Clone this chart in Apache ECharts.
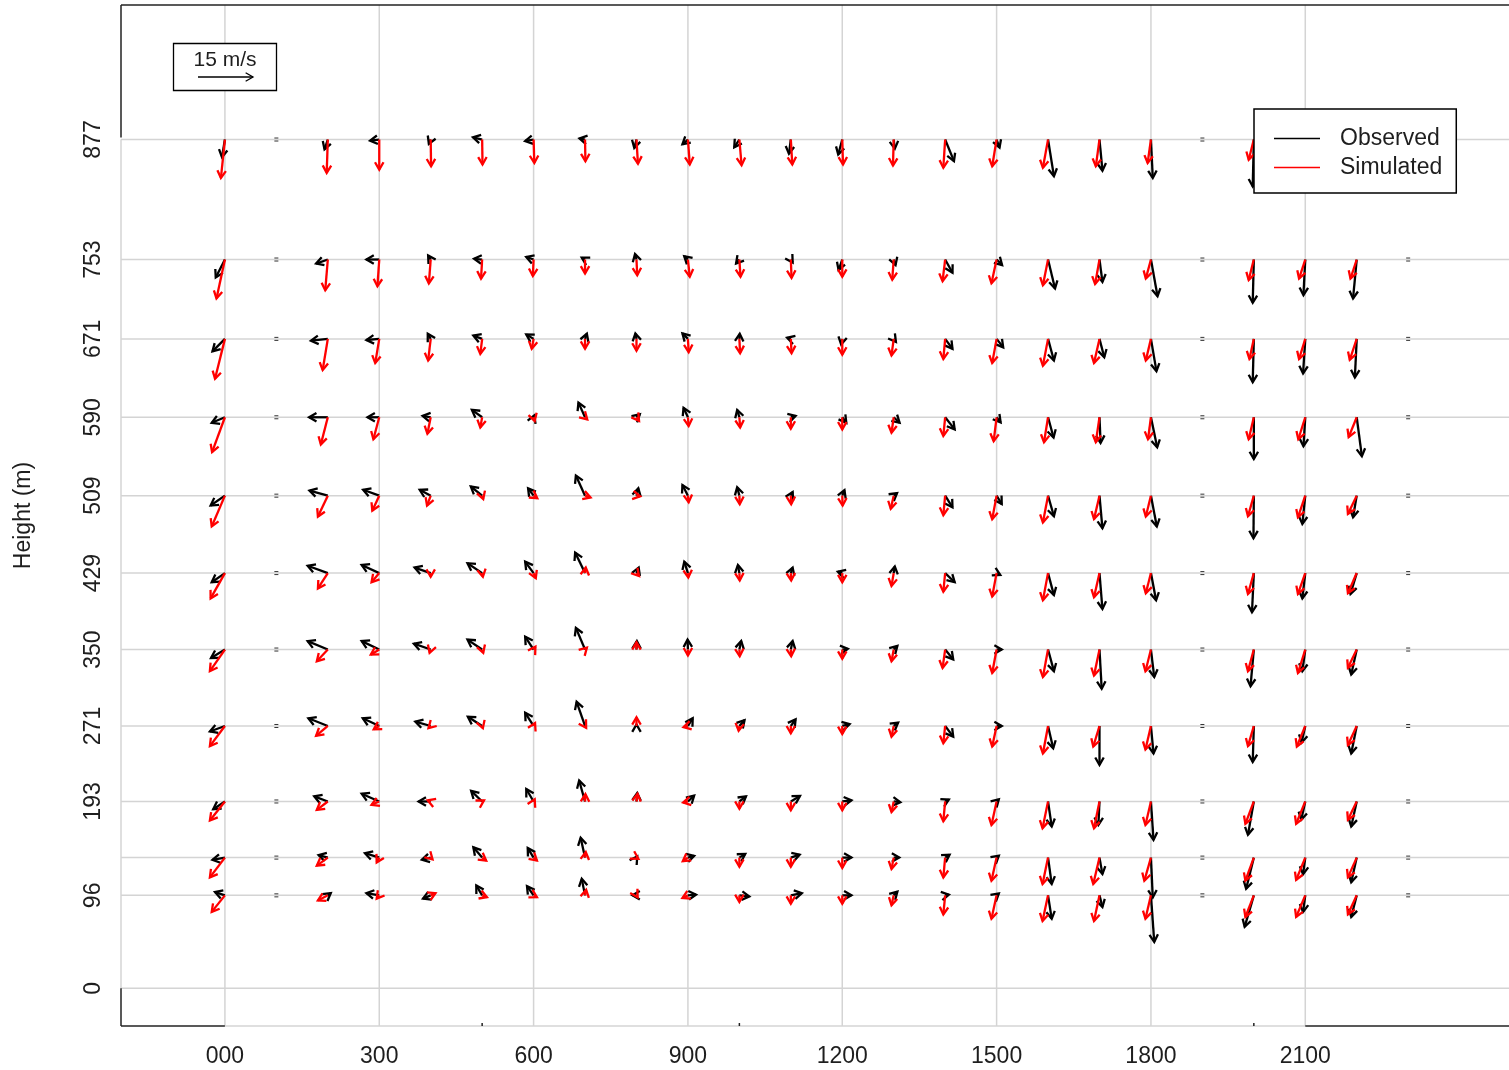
<!DOCTYPE html>
<html>
<head>
<meta charset="utf-8">
<title>Observed and simulated wind vectors</title>
<script src="https://cdn.jsdelivr.net/npm/echarts@6/dist/echarts.min.js"></script>
<style>
  html, body { margin: 0; padding: 0; background: #fff; }
  #chart { width: 1509px; height: 1070px; }
</style>
</head>
<body>
<div id="chart"></div>
<script>
// Station distances along the transect (m) and measurement heights (m)
const stationX = [0, 100, 200, 300, 400, 500, 600, 700, 800, 900, 1000, 1100,
                  1200, 1300, 1400, 1500, 1600, 1700, 1800, 1900, 2000, 2100, 2200, 2300];
const heights = [96, 135, 193, 271, 350, 429, 509, 590, 671, 753, 877];

// Tick labels
const xTickValues = [0, 300, 600, 900, 1200, 1500, 1800, 2100];
const yTickValues = [0, 96, 193, 271, 350, 429, 509, 590, 671, 753, 877];
const gridHeights = [0, 96, 135, 193, 271, 350, 429, 509, 590, 671, 753, 877];
const minorTickX = [500, 1000, 2000];

// Observed wind components (m/s): one row per height (bottom to top), one entry per station, null = no data
const obsU = [
  [-2.7, null, 0.8, -3.5, -2.1, -1.6, -1.8, -0.9, -1.1, 2.2, 2.7, 3.0, 2.5, 1.0, 1.0, 0.6, 1.0, 0.8, 0.9, null, -2.5, -0.6, -1.5, null],
  [-3.4, null, -2.5, -3.9, -2.4, -2.4, -1.6, -1.2, 0.2, 1.7, 1.6, 2.4, 2.5, 1.5, 1.2, 0.6, 1.0, 0.8, 0.5, null, -2.1, -0.6, -1.5, null],
  [-3.2, null, -3.7, -4.8, -3.3, -3.0, -2.0, -1.6, 0.2, 1.7, 1.8, 2.5, 2.5, 1.8, 1.0, 0.6, 1.0, -0.3, 0.7, null, -1.6, -1.1, -1.5, null],
  [-4.1, null, -5.3, -4.5, -4.2, -3.9, -2.3, -2.3, 0.0, 1.3, 1.4, 1.3, 2.0, 1.2, 2.2, 1.4, 1.4, 0.0, 0.7, null, -0.3, -1.0, -1.5, null],
  [-3.8, null, -5.5, -4.8, -4.6, -4.0, -2.3, -2.5, 0.1, -0.1, 0.5, 0.5, 1.5, 1.0, 2.2, 1.4, 1.6, 0.6, 0.9, null, -0.9, -0.8, -1.5, null],
  [-3.6, null, -5.5, -4.8, -4.4, -4.0, -2.3, -2.7, 0.6, -1.0, -0.4, 0.5, -1.2, 0.3, 2.6, 1.0, 1.6, 0.8, 1.4, null, -0.5, -0.8, -1.7, null],
  [-3.9, null, -5.0, -4.4, -3.0, -3.1, -1.5, -2.5, 0.5, -1.5, -0.6, 0.5, 0.6, 0.9, 2.0, 1.4, 1.6, 0.8, 1.6, null, -0.1, -0.8, -1.0, null],
  [-3.6, null, -5.1, -3.2, -2.2, -2.8, 0.2, -1.8, 0.9, -1.2, -0.6, 1.3, 1.1, 1.6, 2.6, 1.1, 1.5, 0.3, 1.7, null, 0.0, -0.5, 1.4, null],
  [-3.4, null, -4.6, -3.5, -0.8, -2.4, -2.0, 0.5, -0.3, -1.5, 0.1, -1.0, -0.3, 0.6, 2.0, 1.8, 1.6, 1.3, 1.5, null, -0.3, -0.6, -0.5, null],
  [-2.5, null, -3.2, -3.5, -0.7, -2.2, -2.0, -0.9, -0.4, -1.0, -0.9, 0.5, -1.0, 0.5, 2.0, 1.5, 1.9, 0.8, 1.8, null, -0.3, -0.5, -1.0, null],
  [-0.8, null, -0.9, -2.5, -0.5, -2.5, -2.3, -1.5, -0.6, -1.5, -1.4, -0.5, -1.1, 0.3, 2.4, 0.8, 1.6, 0.8, 0.5, null, -0.3, null, null, null]
];
const obsV = [
  [0.9, null, 0.6, 0.6, -0.9, 2.7, 2.5, 4.5, 0.0, 0.2, -0.3, 0.6, 0.0, 1.0, 0.2, 0.5, -6.4, -3.2, -12.7, null, -8.6, -4.5, -5.9, null],
  [-0.6, null, 0.7, 1.2, -0.6, 2.8, 2.6, 5.4, 0.3, 0.5, 1.0, 0.8, 0.0, 0.0, 0.8, 0.5, -7.2, -4.5, -10.9, null, -8.5, -4.5, -6.7, null],
  [-2.1, null, 1.4, 2.1, 0.0, 2.9, 3.4, 5.7, 2.3, 1.6, 1.4, 1.5, 0.3, -0.2, 0.5, 0.6, -6.8, -6.4, -10.5, null, -9.1, -5.0, -6.8, null],
  [-1.5, null, 2.1, 2.1, 1.2, 2.5, 3.6, 6.6, 0.4, 2.1, 1.6, 1.8, 0.5, 0.9, -2.9, 0.0, -6.1, -10.6, -7.5, null, -9.8, -4.5, -7.5, null],
  [-2.3, null, 2.3, 2.3, 1.6, 2.7, 3.5, 5.9, 2.3, 2.7, 2.3, 2.3, 0.2, 1.0, -2.7, 0.0, -5.9, -10.7, -7.5, null, -10.0, -5.9, -6.8, null],
  [-2.5, null, 2.0, 2.2, 1.5, 2.7, 3.1, 5.6, 1.5, 3.1, 2.2, 1.5, 0.4, 1.8, -2.5, -0.5, -6.0, -9.8, -7.4, null, -10.7, -6.9, -5.7, null],
  [-2.7, null, 1.4, 1.6, 1.6, 2.5, 2.0, 5.5, 2.0, 2.9, 2.3, 1.0, 1.5, 0.7, -3.2, -2.3, -5.6, -8.9, -8.4, null, -11.6, -7.7, -5.9, null],
  [-1.5, null, 0.0, 0.0, 0.4, 2.0, 0.5, 4.0, 0.8, 2.6, 2.0, 0.4, -1.5, -1.5, -3.3, -1.4, -5.5, -7.0, -8.2, null, -11.4, -7.9, -10.6, null],
  [-3.4, null, -0.5, -0.3, 1.4, 0.9, 1.2, 1.4, 1.5, 1.5, 1.4, 0.3, -1.5, -0.8, -2.7, -2.3, -5.9, -5.0, -8.8, null, -11.8, -9.4, -10.5, null],
  [-4.9, null, -1.1, 0.0, 1.1, 0.2, 0.7, 0.5, 1.5, 0.9, -1.1, -0.8, -2.9, -1.5, -3.6, -1.5, -7.9, -6.1, -10.0, null, -11.8, -9.7, -10.6, null],
  [-4.8, null, -2.7, -0.3, -1.2, 0.6, -0.4, 0.3, -2.3, -1.3, -2.1, -3.9, -4.1, -2.5, -5.9, -2.2, -10.0, -8.5, -10.5, null, -12.8, null, null, null]
];

// Simulated wind components (m/s), same layout
const simU = [
  [-3.6, null, -2.7, -0.7, 1.3, 1.3, 0.9, 0.3, 0.3, -1.5, 0.0, 0.0, 0.0, -0.6, -0.5, -1.4, -1.5, -1.5, -1.5, null, -2.3, -2.5, -2.4, null],
  [-4.1, null, -3.0, -0.7, 0.5, 1.1, 0.9, 0.2, 0.5, -1.4, 0.0, 0.0, 0.0, -0.6, -0.5, -1.4, -1.5, -1.7, -1.8, null, -2.3, -2.5, -2.4, null],
  [-4.1, null, -3.0, -2.1, -0.8, 0.5, 0.3, 0.1, 0.3, -1.3, 0.0, 0.0, 0.0, -0.6, -0.5, -1.4, -1.5, -1.5, -1.5, null, -2.3, -2.5, -2.4, null],
  [-4.1, null, -3.2, -1.5, -0.6, 0.2, 0.4, 0.3, 0.0, -1.2, -0.2, 0.0, 0.0, -0.6, -0.5, -1.2, -1.4, -1.7, -1.5, null, -1.6, -2.3, -2.4, null],
  [-4.1, null, -3.0, -2.3, -0.3, 0.3, 0.5, 0.5, 0.0, 0.0, 0.1, 0.1, 0.0, -0.6, -0.7, -1.2, -1.4, -1.5, -1.5, null, -1.6, -2.0, -2.4, null],
  [-3.9, null, -2.7, -2.1, 0.0, 0.2, 0.6, 0.2, 0.7, 0.1, 0.1, 0.1, 0.0, -0.6, -0.5, -1.2, -1.4, -1.5, -1.4, null, -1.6, -2.0, -2.4, null],
  [-3.6, null, -2.7, -1.9, -1.0, 0.3, 1.0, 1.5, 1.0, 0.2, 0.1, 0.1, 0.1, -0.8, -0.5, -1.2, -1.4, -1.5, -1.4, null, -1.6, -2.0, -2.4, null],
  [-3.5, null, -1.9, -1.6, -0.9, -0.5, 0.3, 0.6, 0.7, 0.2, 0.2, 0.0, 0.0, -0.6, -0.5, -0.8, -1.1, -1.0, -0.8, null, -1.4, -1.9, -2.2, null],
  [-2.7, null, -1.4, -1.1, -0.7, -0.5, -0.5, 0.0, 0.0, 0.2, 0.2, 0.2, 0.0, -0.6, -0.5, -1.2, -1.4, -1.5, -1.4, null, -1.2, -1.7, -1.9, null],
  [-2.3, null, -0.7, -0.5, -0.5, -0.3, -0.2, 0.0, 0.2, 0.5, 0.3, 0.2, 0.0, -0.4, -0.7, -1.4, -1.4, -1.2, -1.4, null, -1.4, -1.7, -1.7, null],
  [-1.1, null, -0.3, 0.0, 0.1, 0.1, 0.2, 0.1, 0.4, 0.5, 0.6, 0.4, 0.2, -0.2, -0.5, -1.2, -1.4, -1.0, -0.9, null, -1.4, null, null, null]
];
const simV = [
  [-4.5, null, -1.4, -0.9, 0.6, -0.5, -0.5, 1.5, -0.5, -0.7, -1.8, -2.3, -2.3, -2.7, -5.2, -6.4, -7.0, -7.0, -6.4, null, -5.9, -5.9, -5.2, null],
  [-5.4, null, -2.2, -1.3, -0.5, -0.8, -0.8, 1.5, -0.3, -1.0, -2.5, -2.5, -2.8, -3.1, -5.4, -6.3, -7.2, -7.2, -6.3, null, -6.3, -6.1, -5.4, null],
  [-5.2, null, -2.3, -0.9, 0.3, 0.3, 0.6, 2.0, 2.1, -0.3, -2.0, -2.4, -2.4, -2.9, -5.4, -6.4, -7.3, -7.3, -6.4, null, -6.1, -6.1, -5.0, null],
  [-5.5, null, -2.7, -0.9, -0.6, -0.6, 0.8, -0.5, 2.4, -0.3, -1.3, -2.0, -2.2, -2.9, -4.7, -5.6, -7.5, -5.6, -6.4, null, -5.5, -5.6, -5.2, null],
  [-5.9, null, -3.2, -1.4, -0.9, -0.9, 0.8, 0.5, 2.0, -1.6, -1.8, -1.8, -2.5, -3.2, -5.0, -6.4, -7.5, -7.1, -5.9, null, -5.9, -6.4, -5.0, null],
  [-6.9, null, -4.2, -2.5, -1.0, -1.0, -1.4, 1.5, -0.8, -1.2, -2.0, -2.0, -2.5, -3.5, -5.1, -6.4, -7.4, -6.6, -5.5, null, -5.7, -5.7, -5.5, null],
  [-8.4, null, -5.7, -4.1, -2.7, -0.9, -0.7, -0.5, -0.2, -1.8, -2.3, -2.3, -2.7, -3.6, -5.3, -6.4, -7.3, -6.4, -5.7, null, -5.6, -5.9, -5.0, null],
  [-9.5, null, -7.4, -6.0, -4.5, -2.8, -1.0, -0.6, -1.0, -2.4, -2.8, -3.1, -3.3, -4.2, -5.1, -6.5, -6.8, -6.8, -6.0, null, -6.0, -6.0, -5.4, null],
  [-10.9, null, -8.5, -6.6, -5.9, -4.1, -2.7, -2.7, -3.2, -3.6, -3.9, -3.9, -4.3, -4.5, -5.5, -6.6, -7.3, -6.6, -5.9, null, -5.5, -5.5, -5.7, null],
  [-10.6, null, -8.4, -7.3, -6.5, -5.2, -4.5, -3.8, -4.3, -4.7, -4.7, -5.0, -4.7, -5.5, -5.9, -6.5, -7.0, -6.7, -5.2, null, -5.6, -5.2, -5.2, null],
  [-10.5, null, -9.1, -8.2, -7.3, -6.8, -6.4, -5.9, -6.6, -6.8, -7.0, -6.8, -6.8, -7.1, -7.7, -7.3, -7.7, -7.3, -6.4, null, -5.5, null, null, null]
];

const KEY_SPEED = 15;             // reference arrow speed (m/s)
const PX_PER_MS = 55 / KEY_SPEED; // arrow length in pixels per m/s
const HEAD_LEN = 8.5;
const HEAD_ANGLE = Math.PI / 6;
const FONT = '"Liberation Sans", Arial, Helvetica, sans-serif';
const GRID_COLOR = '#d4d4d4';
const TEXT_COLOR = '#1e1e1e';

function buildVectors(U, V) {
  const out = [];
  heights.forEach((h, i) => {
    stationX.forEach((x, j) => {
      if (U[i][j] !== null) out.push([x, h, U[i][j], V[i][j]]);
    });
  });
  return out;
}

function buildMissing() {
  const out = [];
  heights.forEach((h, i) => {
    stationX.forEach((x, j) => {
      if (obsU[i][j] === null) out.push([x, h]);
    });
  });
  return out;
}

function arrowShapes(x0, y0, x1, y1, color, width, z) {
  const ang = Math.atan2(y1 - y0, x1 - x0);
  const h1 = [x1 - HEAD_LEN * Math.cos(ang - HEAD_ANGLE), y1 - HEAD_LEN * Math.sin(ang - HEAD_ANGLE)];
  const h2 = [x1 - HEAD_LEN * Math.cos(ang + HEAD_ANGLE), y1 - HEAD_LEN * Math.sin(ang + HEAD_ANGLE)];
  const shaft = { type: 'line', shape: { x1: x0, y1: y0, x2: x1, y2: y1 },
    style: { stroke: color, lineWidth: width, lineCap: 'butt' } };
  const head = { type: 'polyline', shape: { points: [h1, [x1, y1], h2] },
    style: { stroke: color, lineWidth: width, fill: null, lineJoin: 'miter' } };
  if (z !== undefined) { shaft.z = z; head.z = z; }
  return [shaft, head];
}

function vectorRenderer(color, width) {
  return function (params, api) {
    const p = api.coord([api.value(0), api.value(1)]);
    const tx = p[0] + api.value(2) * PX_PER_MS;
    const ty = p[1] - api.value(3) * PX_PER_MS;
    return { type: 'group', children: arrowShapes(p[0], p[1], tx, ty, color, width) };
  };
}

const chart = echarts.init(document.getElementById('chart'), null, { renderer: 'canvas' });

const keyArrow = arrowShapes(198, 77, 198 + KEY_SPEED * PX_PER_MS, 77, '#000', 1.3, 60);

const option = {
  animation: false,
  backgroundColor: '#fff',
  textStyle: { fontFamily: FONT },
  grid: { left: 121, right: 0, top: 5, bottom: 44, containLabel: false },
  xAxis: {
    type: 'value', min: -202, max: 2496,
    axisLine: { show: false },
    axisTick: { show: false, customValues: xTickValues },
    splitLine: { show: false },
    axisLabel: {
      customValues: xTickValues,
      formatter: v => (v === 0 ? '000' : String(v)),
      fontSize: 23, color: TEXT_COLOR, margin: 19, fontFamily: FONT
    }
  },
  yAxis: {
    type: 'value', min: -39, max: 1016,
    name: 'Height (m)', nameLocation: 'middle', nameRotate: 90, nameGap: 86,
    nameTextStyle: { fontSize: 23, color: TEXT_COLOR, fontFamily: FONT },
    axisLine: { show: false },
    axisTick: { show: false, customValues: yTickValues },
    splitLine: { show: false },
    axisLabel: {
      customValues: yTickValues, rotate: 90,
      fontSize: 23, color: TEXT_COLOR, margin: 16, fontFamily: FONT
    }
  },
  legend: {
    data: [{ name: 'Observed', icon: 'rect' }, { name: 'Simulated', icon: 'rect' }],
    orient: 'vertical', left: 1254, top: 109,
    itemWidth: 46, itemHeight: 1.5, itemGap: 6,
    padding: [18, 14, 14, 20],
    borderColor: '#000', borderWidth: 1.5, backgroundColor: '#fff',
    textStyle: { fontSize: 23, color: TEXT_COLOR, fontFamily: FONT, padding: [0, 0, 0, 15] },
    selectedMode: false, z: 20
  },
  graphic: [
    { type: 'rect', z: 50, shape: { x: 173.5, y: 43.5, width: 103, height: 47 },
      style: { fill: '#fff', stroke: '#000', lineWidth: 1.3 } },
    { type: 'text', z: 60, x: 225, y: 60,
      style: { text: KEY_SPEED + ' m/s', font: '21px ' + FONT, fill: TEXT_COLOR,
               textAlign: 'center', textVerticalAlign: 'middle' } },
    { type: 'line', z: 60, shape: keyArrow[0].shape, style: keyArrow[0].style },
    { type: 'polyline', z: 60, shape: keyArrow[1].shape, style: keyArrow[1].style }
  ],
  series: [
    {
      // reference grid lines at station columns and measurement heights
      type: 'custom', name: 'gridlines', silent: true, z: 1, clip: false,
      data: [[0, 0]],
      renderItem: function (params, api) {
        const cs = params.coordSys;
        const children = [];
        xTickValues.forEach(v => {
          const x = api.coord([v, 0])[0];
          children.push({ type: 'line', shape: { x1: x, y1: cs.y, x2: x, y2: cs.y + cs.height },
            style: { stroke: GRID_COLOR, lineWidth: 1.5 } });
        });
        gridHeights.forEach(h => {
          const y = api.coord([0, h])[1];
          children.push({ type: 'line', shape: { x1: cs.x, y1: y, x2: cs.x + cs.width, y2: y },
            style: { stroke: GRID_COLOR, lineWidth: 1.5 } });
        });
        return { type: 'group', children };
      }
    },
    {
      // plot frame
      type: 'custom', name: 'frame', silent: true, z: 2, clip: false,
      data: [[0, 0]],
      renderItem: function (params, api) {
        const cs = params.coordSys;
        const L = cs.x, T = cs.y, R = cs.x + cs.width, B = cs.y + cs.height;
        const xZero = api.coord([0, 0])[0];
        const yZero = api.coord([0, 0])[1];
        const xEnd = api.coord([xTickValues[xTickValues.length - 1], 0])[0];
        const yTop = api.coord([0, heights[heights.length - 1]])[1];
        const seg = (x1, y1, x2, y2, c) => ({ type: 'line', shape: { x1, y1, x2, y2 },
          style: { stroke: c, lineWidth: 1.5 } });
        const children = [
          seg(L, T, R, T, '#222'),
          seg(L, T, L, yTop - 2, '#222'),
          seg(L, yTop, L, yZero, GRID_COLOR),
          seg(L, yZero, L, B, '#222'),
          seg(L, B, xZero, B, '#222'),
          seg(xZero, B, xEnd, B, GRID_COLOR),
          seg(xEnd, B, R, B, '#222')
        ];
        minorTickX.forEach(v => {
          const x = api.coord([v, 0])[0];
          children.push(seg(x, B, x, B - 3, '#222'));
        });
        return { type: 'group', children };
      }
    },
    {
      // stations without data
      type: 'custom', name: 'nodata', silent: true, z: 3,
      data: buildMissing(),
      encode: { x: 0, y: 1 },
      renderItem: function (params, api) {
        const p = api.coord([api.value(0), api.value(1)]);
        return { type: 'group', children: [
          { type: 'line', shape: { x1: p[0] - 2, y1: p[1] - 1.5, x2: p[0] + 2, y2: p[1] - 1.5 },
            style: { stroke: '#333', lineWidth: 1 } },
          { type: 'line', shape: { x1: p[0] - 2, y1: p[1] + 1.5, x2: p[0] + 2, y2: p[1] + 1.5 },
            style: { stroke: '#333', lineWidth: 1 } }
        ] };
      }
    },
    {
      type: 'custom', name: 'Observed', z: 4,
      itemStyle: { color: '#000' },
      data: buildVectors(obsU, obsV),
      encode: { x: 0, y: 1 },
      renderItem: vectorRenderer('#000', 2.3)
    },
    {
      type: 'custom', name: 'Simulated', z: 5,
      itemStyle: { color: '#ff0000' },
      data: buildVectors(simU, simV),
      encode: { x: 0, y: 1 },
      renderItem: vectorRenderer('#ff0000', 2.3)
    }
  ]
};

chart.setOption(option);
</script>
</body>
</html>
